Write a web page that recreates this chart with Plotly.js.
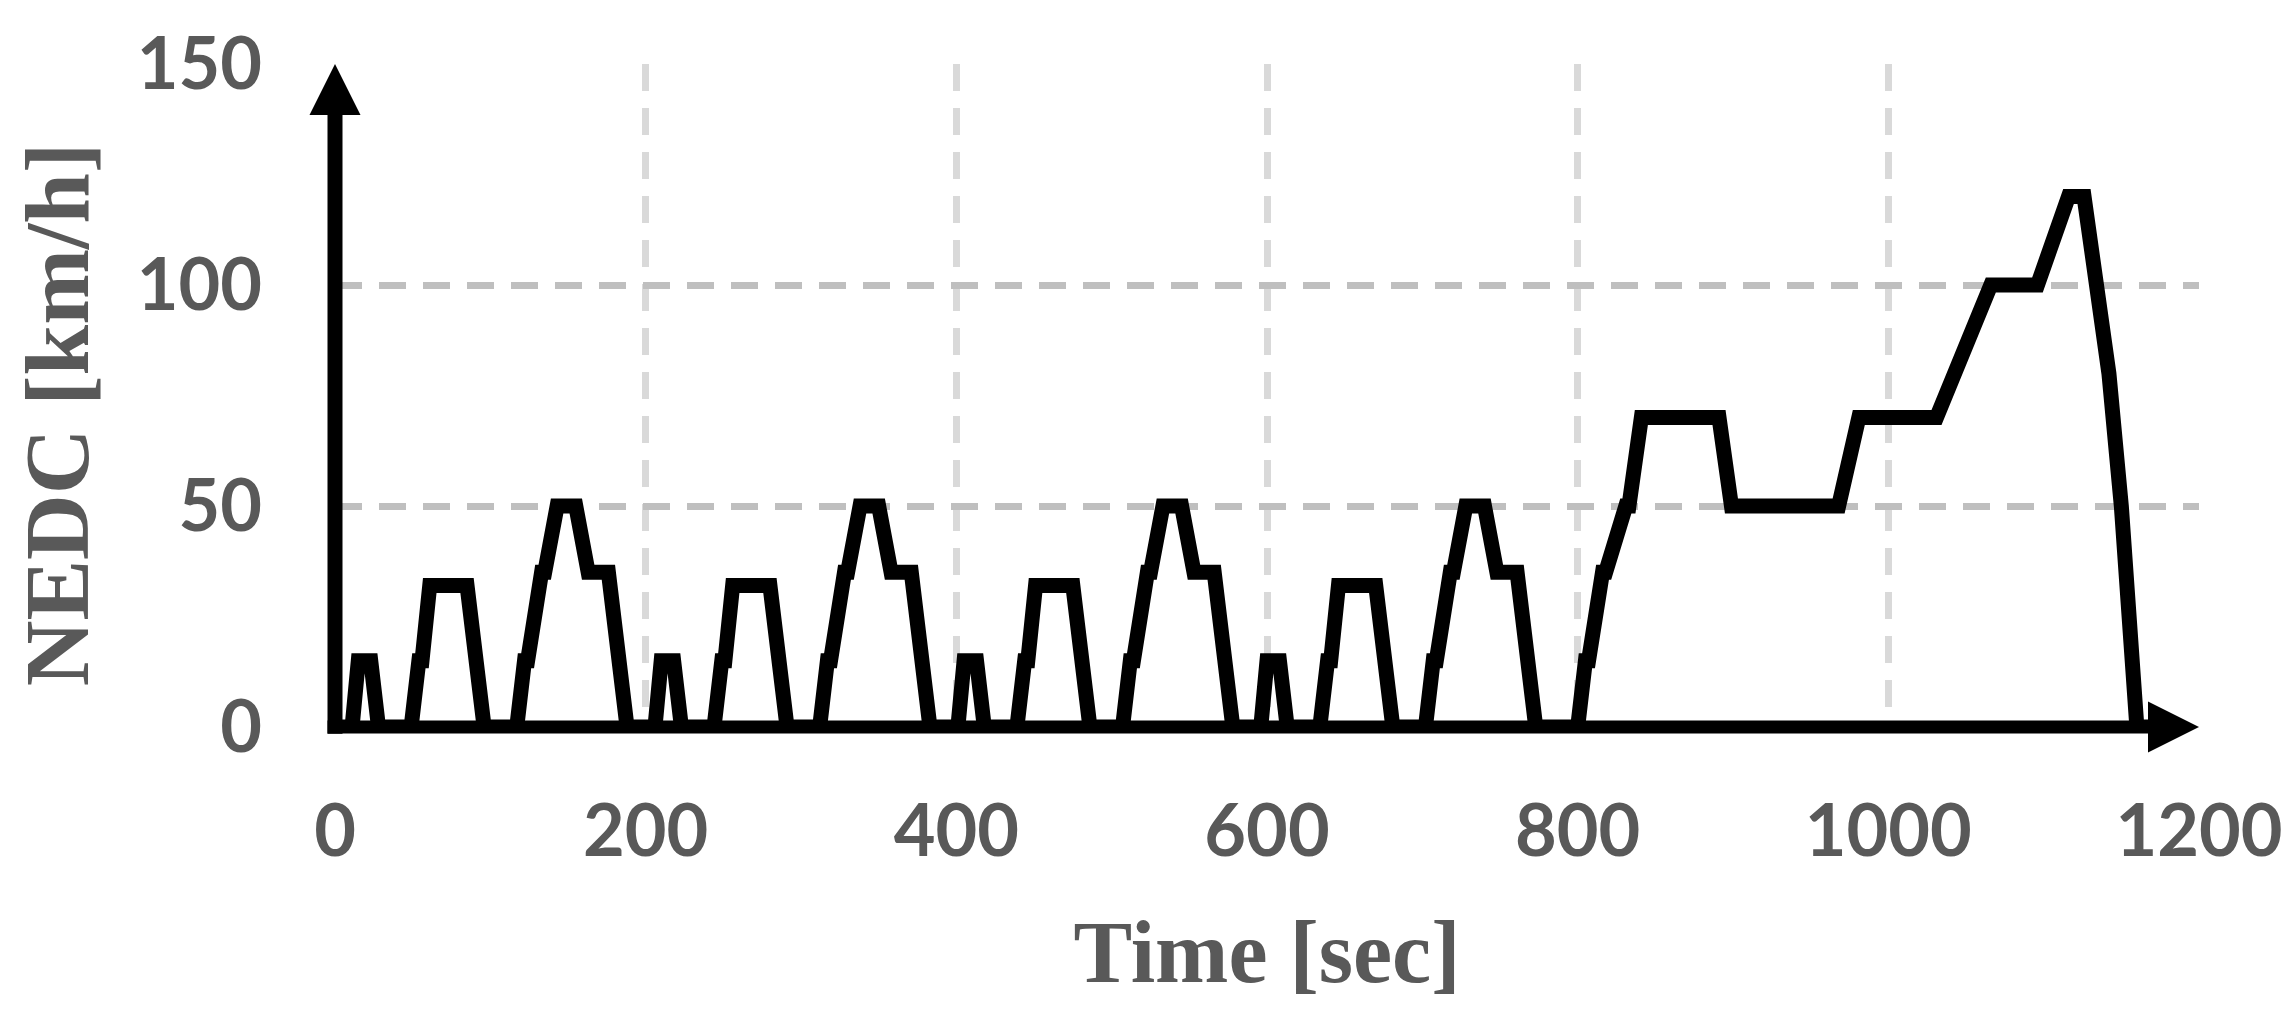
<!DOCTYPE html>
<html>
<head>
<meta charset="utf-8">
<script src="https://cdn.plot.ly/plotly-3.0.1.min.js"></script>
<style>html,body{margin:0;padding:0;background:#fff;}#chart{width:2292px;height:1014px;}</style>
</head>
<body>
<div id="chart"></div>
<script>
// NEDC speed profile: vertices of the piecewise-linear cycle (time [s], speed [km/h])
const timeSec = [
  0, 11, 15, 23, 28, 49, 54, 56, 61, 85, 96, 117, 122, 124, 133, 135, 143, 155, 163, 176, 188, 195,
  206, 210, 218, 223, 244, 249, 251, 256, 280, 291, 312, 317, 319, 328, 330, 338, 350, 358, 371, 383, 390,
  401, 405, 413, 418, 439, 444, 446, 451, 475, 486, 507, 512, 514, 523, 525, 533, 545, 553, 566, 578, 585,
  596, 600, 608, 613, 634, 639, 641, 646, 670, 681, 702, 707, 709, 718, 720, 728, 740, 748, 761, 773, 780,
  800, 805, 807, 816, 818, 831, 833, 841, 891, 899, 968, 981, 1031, 1066, 1096, 1116, 1126, 1142, 1150, 1160, 1180
];
const speedKmh = [
  0, 0, 15, 15, 0, 0, 15, 15, 32, 32, 0, 0, 15, 15, 35, 35, 50, 50, 35, 35, 0, 0,
  0, 15, 15, 0, 0, 15, 15, 32, 32, 0, 0, 15, 15, 35, 35, 50, 50, 35, 35, 0, 0,
  0, 15, 15, 0, 0, 15, 15, 32, 32, 0, 0, 15, 15, 35, 35, 50, 50, 35, 35, 0, 0,
  0, 15, 15, 0, 0, 15, 15, 32, 32, 0, 0, 15, 15, 35, 35, 50, 50, 35, 35, 0, 0,
  0, 15, 15, 35, 35, 50, 50, 70, 70, 50, 50, 70, 70, 100, 100, 120, 120, 80, 50, 0, 0
];
const xTicks = [0, 200, 400, 600, 800, 1000, 1200];
const yTicks = [0, 50, 100, 150];
const xRange = [0, 1200];
const yRange = [0, 150];
const arrowX = [xRange[0], xRange[1]];
const arrowY = [yRange[1], yRange[0]];
const xTitle = 'Time [sec]';
const yTitle = 'NEDC [km/h]';

const labelGray = '#595959';
const tickFont = {family: 'Lato, "Open Sans", sans-serif', size: 72, color: labelGray, weight: 'bold'};
const xTitleFont = {family: '"Liberation Serif", "DejaVu Serif", serif', size: 88, color: labelGray, weight: 'bold'};
const yTitleFont = {family: '"Liberation Serif", "DejaVu Serif", serif', size: 91, color: labelGray, weight: 'bold'};

const traces = [
  {
    x: timeSec, y: speedKmh, type: 'scatter', mode: 'lines',
    line: {color: '#000000', width: 15},
    hoverinfo: 'skip', showlegend: false
  },
  {
    x: arrowX, y: arrowY, type: 'scatter', mode: 'markers',
    marker: {symbol: ['arrow-up', 'arrow-right'], size: 51, color: '#000000', line: {width: 0}},
    cliponaxis: false, hoverinfo: 'skip', showlegend: false
  }
];

const layout = {
  width: 2292, height: 1014,
  margin: {l: 335, r: 93, t: 64, b: 287, pad: 0},
  paper_bgcolor: '#ffffff', plot_bgcolor: '#ffffff',
  showlegend: false,
  xaxis: {
    range: xRange, tickvals: xTicks, ticktext: xTicks.map(String),
    showgrid: true, gridcolor: '#D9D9D9', gridwidth: 7, griddash: '27px,17px',
    zeroline: false, showline: false, ticks: '', ticklabelstandoff: 56,
    tickfont: tickFont, automargin: false,
    title: {text: xTitle, font: xTitleFont, standoff: 50}
  },
  yaxis: {
    range: yRange, tickvals: yTicks, ticktext: yTicks.map(String),
    showgrid: true, gridcolor: '#BFBFBF', gridwidth: 7, griddash: '27px,17px',
    zeroline: false, showline: false, ticks: '', ticklabelstandoff: 72,
    tickfont: tickFont, automargin: false,
    title: {text: ''}
  },
  annotations: [
    {text: yTitle, xref: 'paper', yref: 'paper', x: -0.149, y: 0.472,
     xanchor: 'center', yanchor: 'middle', textangle: -90, showarrow: false,
     font: yTitleFont}
  ],
  shapes: [
    {type: 'line', xref: 'paper', yref: 'paper', x0: 0, x1: 0, y0: -0.01, y1: 0.93,
     line: {color: '#000000', width: 15}},
    {type: 'line', xref: 'paper', yref: 'paper', x0: -0.004, x1: 0.98, y0: 0, y1: 0,
     line: {color: '#000000', width: 13}}
  ]
};

Plotly.newPlot('chart', traces, layout, {staticPlot: true, displayModeBar: false});
</script>
</body>
</html>
